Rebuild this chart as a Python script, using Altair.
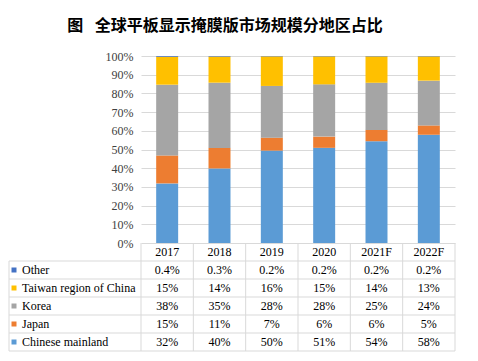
import altair as alt
import pandas as pd

years = ["2017", "2018", "2019", "2020", "2021F", "2022F"]
regions = ["Chinese mainland", "Japan", "Korea", "Taiwan region of China", "Other"]
chinese_mainland = [32, 40, 50, 51, 54, 58]
japan = [15, 11, 7, 6, 6, 5]
korea = [38, 35, 28, 28, 25, 24]
taiwan = [15, 14, 16, 15, 14, 13]
other = [0.4, 0.3, 0.2, 0.2, 0.2, 0.2]
table_rows = ["Other", "Taiwan region of China", "Korea", "Japan", "Chinese mainland"]
colors = ["#5B9BD5", "#ED7D31", "#A5A5A5", "#FFC000", "#4472C4"]
title_text = "图\u2002 全球平板显示掩膜版市场规模分地区占比"

series = [chinese_mainland, japan, korea, taiwan, other]

def fmt(v):
    return f"{v:g}%"

recs = []
for ri, (reg, vals) in enumerate(zip(regions, series)):
    for y, v in zip(years, vals):
        recs.append({"year": y, "region": reg, "value": v, "order": ri,
                     "row": reg, "text": fmt(v)})
df = pd.DataFrame(recs)

hdr = pd.DataFrame({"year": years, "row": ["header"] * len(years), "text": years})
tab_df = pd.concat([df[["year", "row", "text"]], hdr], ignore_index=True)
names_df = pd.DataFrame({"row": table_rows, "region": table_rows})

SERIF = "Liberation Serif"
GRID = "#D9D9D9"
W, H, TH = 314, 187, 108

color_scale = alt.Scale(domain=regions, range=colors)
x_scale = alt.Scale(domain=years, paddingInner=0, paddingOuter=0)
row_domain = ["header"] + table_rows
y_tab = alt.Scale(domain=row_domain, paddingInner=0, paddingOuter=0)

bars = alt.Chart(df).mark_bar(width=alt.RelativeBandSize(0.42)).encode(
    x=alt.X("year:N", scale=x_scale, sort=years, axis=None),
    y=alt.Y("value:Q", stack="normalize", scale=alt.Scale(domain=[0, 1]),
            axis=alt.Axis(format=".0%", values=[i / 10 for i in range(11)],
                          title=None, domain=False, ticks=False, grid=True,
                          gridColor=GRID, labelFont=SERIF, labelFontSize=12,
                          labelColor="#404040", labelPadding=8)),
    color=alt.Color("region:N", scale=color_scale, legend=None),
    order=alt.Order("order:Q"),
).properties(width=W, height=H)

tbase = alt.Chart(tab_df)
cells = tbase.mark_text(font=SERIF, fontSize=12, color="#000000", baseline="middle").encode(
    x=alt.X("year:N", scale=x_scale, sort=years, axis=None),
    y=alt.Y("row:N", scale=y_tab, sort=row_domain, axis=None),
    text="text:N",
)

vlines = alt.Chart(pd.DataFrame({"year": years})).mark_rule(color=GRID, strokeWidth=1).encode(
    x=alt.X("year:N", scale=x_scale, sort=years, bandPosition=0, axis=None),
    y=alt.value(0), y2=alt.value(TH),
)
vlast = alt.Chart(pd.DataFrame({"year": years[-1:]})).mark_rule(color=GRID, strokeWidth=1).encode(
    x=alt.X("year:N", scale=x_scale, sort=years, bandPosition=1, axis=None),
    y=alt.value(0), y2=alt.value(TH),
)
hlines = alt.Chart(pd.DataFrame({"row": table_rows})).mark_rule(color=GRID, strokeWidth=1).encode(
    y=alt.Y("row:N", scale=y_tab, sort=row_domain, bandPosition=0, axis=None),
    x=alt.value(-132), x2=alt.value(W),
)
hlast = alt.Chart(pd.DataFrame({"row": table_rows[-1:]})).mark_rule(color=GRID, strokeWidth=1).encode(
    y=alt.Y("row:N", scale=y_tab, sort=row_domain, bandPosition=1, axis=None),
    x=alt.value(-132), x2=alt.value(W),
)
lborder = alt.Chart(pd.DataFrame({"row": table_rows[:1]})).mark_rule(color=GRID, strokeWidth=1).encode(
    y=alt.Y("row:N", scale=y_tab, sort=row_domain, bandPosition=0, axis=None),
    y2=alt.value(TH),
    x=alt.value(-132),
)
names = alt.Chart(names_df).mark_text(font=SERIF, fontSize=12, color="#000000",
                                      align="left", baseline="middle").encode(
    y=alt.Y("row:N", scale=y_tab, sort=row_domain, axis=None),
    x=alt.value(-119),
    text="row:N",
)
squares = alt.Chart(names_df).mark_point(shape="square", filled=True, size=25, opacity=1).encode(
    y=alt.Y("row:N", scale=y_tab, sort=row_domain, axis=None),
    x=alt.value(-127),
    color=alt.Color("region:N", scale=color_scale, legend=None),
)

table = alt.layer(vlines, vlast, hlines, hlast, lborder, cells, names, squares).properties(
    width=W, height=TH)

chart = alt.vconcat(bars, table, spacing=0, bounds="flush").properties(
    title=alt.TitleParams(text=title_text, font="Noto Sans CJK SC", fontSize=16,
                          fontWeight="bold", anchor="middle", dx=-7, offset=16,
                          color="#000000"),
    padding={"left": 0, "top": 10, "right": 5, "bottom": 0},
).configure_view(stroke=None)

chart.save("out.html", embed_options={"renderer": "svg", "actions": False})
